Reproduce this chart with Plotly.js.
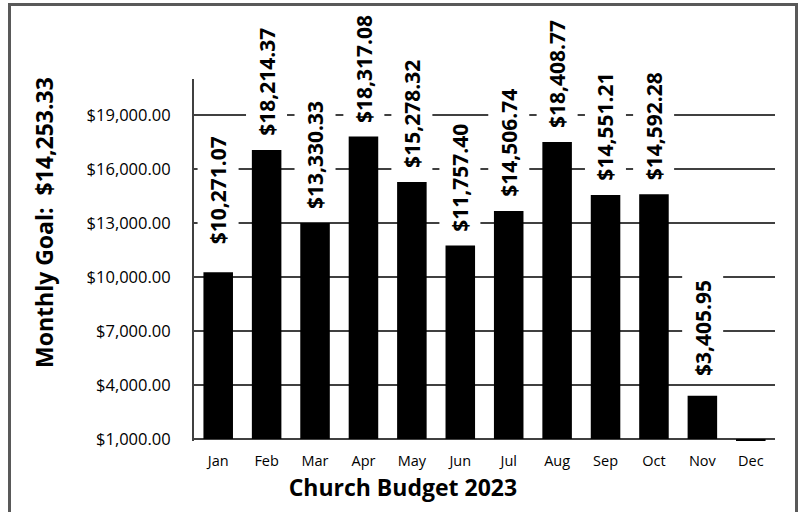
<!DOCTYPE html>
<html>
<head>
<meta charset="utf-8">
<script src="https://cdn.plot.ly/plotly-3.0.1.min.js"></script>
<style>
  html, body { margin: 0; padding: 0; background: #fff; }
  #wrap { position: relative; width: 801px; height: 512px; overflow: hidden; }
  #chart { position: absolute; left: 0; top: 0; width: 801px; height: 512px; }
  #frame { position: absolute; left: 8px; top: 3px; width: 784px; height: 600px;
           border: 3px solid #595959; pointer-events: none; }
</style>
</head>
<body>
<div id="wrap">
  <div id="chart"></div>
  <div id="frame"></div>
</div>
<script>
// ---- data ----
const months = ['Jan', 'Feb', 'Mar', 'Apr', 'May', 'Jun', 'Jul', 'Aug', 'Sep', 'Oct', 'Nov', 'Dec'];
const barValues = [10271, 17050, 13000, 17800, 15278, 11757, 13670, 17500, 14551, 14592, 3406, 0];
const labelTexts = ['$10,271.07', '$18,214.37', '$13,330.33', '$18,317.08', '$15,278.32', '$11,757.40',
                    '$14,506.74', '$18,408.77', '$14,551.21', '$14,592.28', '$3,405.95', ''];
const goalText = 'Monthly Goal:  $14,253.33';
const chartTitle = 'Church Budget 2023';
const axisMin = 1000;
const axisMax = 21000;
const tickStep = 3000;

// ---- chart ----
const FONT = 'Open Sans, Noto Sans, sans-serif';
const GRID = '#404040';

const trace = {
  type: 'bar',
  x: months,
  y: barValues.map(v => v - axisMin),
  base: axisMin,
  marker: { color: '#000000', line: { width: 0 } },
  hoverinfo: 'skip'
};

const labelAnns = [];
labelTexts.forEach((t, i) => {
  if (!t) return;
  labelAnns.push({
    x: months[i], y: barValues[i], xref: 'x', yref: 'y',
    text: t, showarrow: false, textangle: -90,
    xanchor: 'center', yanchor: 'bottom',
    yshift: 7 + (i === 0 ? 14 : 0) + (i === 10 ? 6 : 0),
    bgcolor: '#ffffff', borderpad: 6,
    font: { family: FONT, size: 21, weight: 'bold', color: '#000000' }
  });
});

labelAnns.push({
  xref: 'paper', yref: 'paper',
  x: (44 - 194) / 581, y: (441 - 223) / 362,
  text: goalText, showarrow: false, textangle: -90,
  xanchor: 'center', yanchor: 'middle',
  font: { family: FONT, size: 23, weight: 'bold', color: '#000000' }
});

const layout = {
  width: 801, height: 512,
  margin: { l: 194, r: 26, t: 79, b: 71, pad: 0 },
  paper_bgcolor: '#ffffff', plot_bgcolor: '#ffffff',
  showlegend: false,
  bargap: 0.39,
  title: {
    text: chartTitle, xref: 'container', yref: 'container',
    x: 0.503, xanchor: 'center', y: 1 - 488 / 512, yanchor: 'middle',
    font: { family: FONT, size: 23, weight: 'bold', color: '#000000' }
  },
  xaxis: {
    type: 'category',
    showgrid: false, zeroline: false, showline: false,
    ticks: '', ticklabelstandoff: 9,
    tickfont: { family: FONT, size: 14.5, color: '#000000' }
  },
  yaxis: {
    range: [axisMin - 110, axisMax],
    tick0: axisMin, dtick: tickStep, tickmode: 'linear',
    tickformat: '$,.2f',
    showgrid: true, gridcolor: GRID, gridwidth: 2,
    zeroline: false,
    showline: true, linecolor: '#404040', linewidth: 2,
    ticks: '', ticklabelstandoff: 18,
    tickfont: { family: FONT, size: 16.5, color: '#000000' }
  },
  annotations: labelAnns
};

Plotly.newPlot('chart', [trace], layout, { staticPlot: true, displayModeBar: false });
</script>
</body>
</html>
